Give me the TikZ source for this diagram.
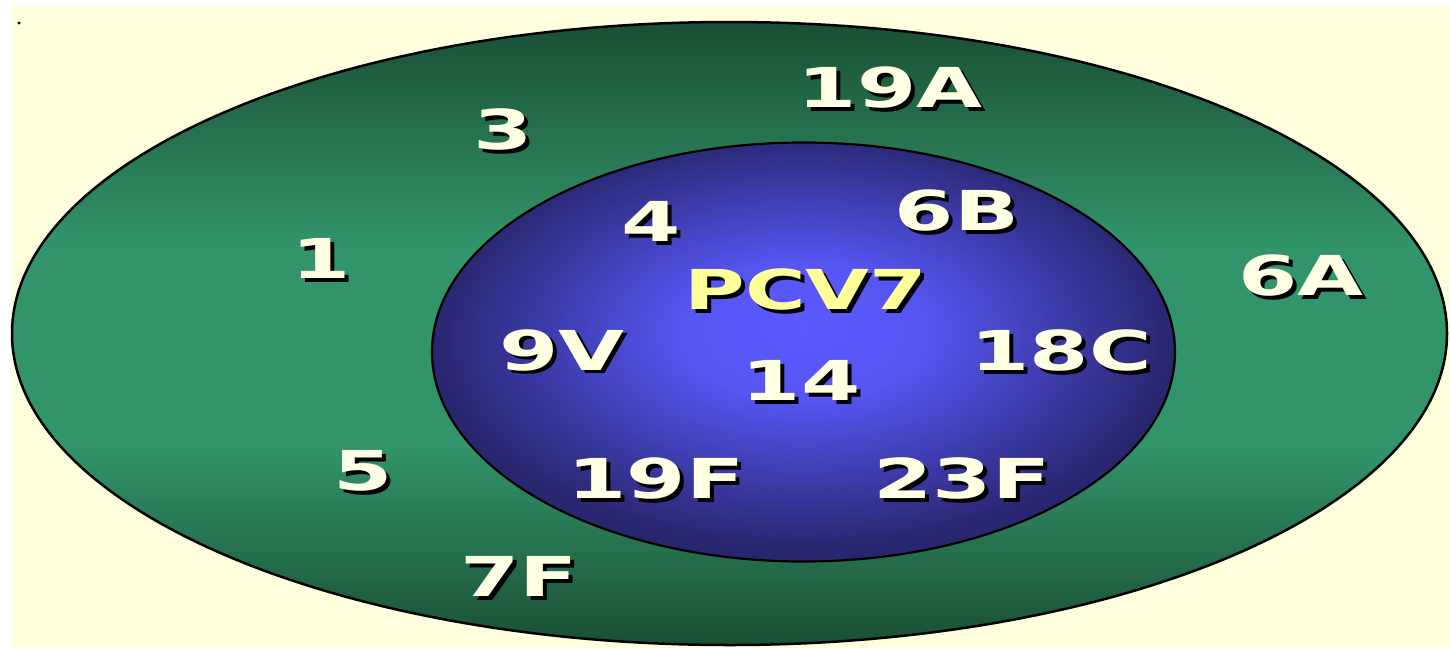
\documentclass[tikz,border=0pt]{standalone}
\usepackage{fontspec}
\setmainfont{DejaVu Sans}
\definecolor{cream}{HTML}{FFFFDD}
\definecolor{txtcream}{HTML}{FFFFE4}
\definecolor{pcvyellow}{HTML}{FFFF99}
\definecolor{gdark}{HTML}{1A4F34}
\definecolor{glight}{HTML}{32946A}
\definecolor{bdark}{HTML}{28266E}
\definecolor{blight}{HTML}{5A5AFF}
\pgfdeclareradialshading{bluesh}{\pgfpoint{0bp}{3bp}}{color(0bp)=(blight); color(8bp)=(blight!92!bdark); color(25bp)=(bdark); color(50bp)=(bdark)}
\pgfdeclareverticalshading{greensh}{100bp}{color(0bp)=(gdark); color(25bp)=(gdark); color(41bp)=(glight); color(57bp)=(glight); color(75bp)=(gdark); color(100bp)=(gdark)}
\tikzset{
  lbltxt/.style={text=txtcream, font=\bfseries\fontsize{55}{55}\selectfont, inner sep=0pt, xscale=1.55},
  shadowtxt/.style={lbltxt, text=black},
  pcvtxt/.style={lbltxt, text=pcvyellow, xscale=0.97}
}
\newcommand\lbl[4]{\node[shadowtxt] (#1s) at (#2+4,#3+4) {#4};\node[lbltxt] (#1) at (#2,#3) {#4};}
\begin{document}
\begin{tikzpicture}[x=1pt,y=-1pt]
\useasboundingbox (0,0) rectangle (1450,648);
\fill[white] (0,0) rectangle (1450,648);
\fill[cream] (11,6) rectangle (1450,648);
\fill[black] (19,23) circle (1.6);
\shade[shading=greensh, draw=black, line width=2.5pt]
  (729.5,333.5) ellipse [x radius=717.5, y radius=311.5];
\shade[shading=bluesh, draw=black, line width=2.2pt]
  (803.5,352) ellipse [x radius=371.5, y radius=209.5];
\lbl{s19A}{890}{88}{19A}
\lbl{s3}{503}{129}{3}
\lbl{s1}{321}{258}{1}
\lbl{s4}{651}{221}{4}
\lbl{s6B}{957}{211}{6B}
\lbl{s6A}{1301}{276}{6A}
\lbl{s9V}{562}{350}{9V}
\lbl{s18C}{1061}{350}{18C}
\lbl{s14}{801}{380}{14}
\lbl{s5}{363}{471}{5}
\lbl{s19F}{656}{478}{19F}
\lbl{s23F}{962}{478}{23F}
\lbl{s7F}{519}{576}{7F}
\node[shadowtxt, xscale=0.97] (pcvs) at (810,293) {PCV7};
\node[pcvtxt] (pcv) at (806,289) {PCV7};
\end{tikzpicture}
\end{document}
